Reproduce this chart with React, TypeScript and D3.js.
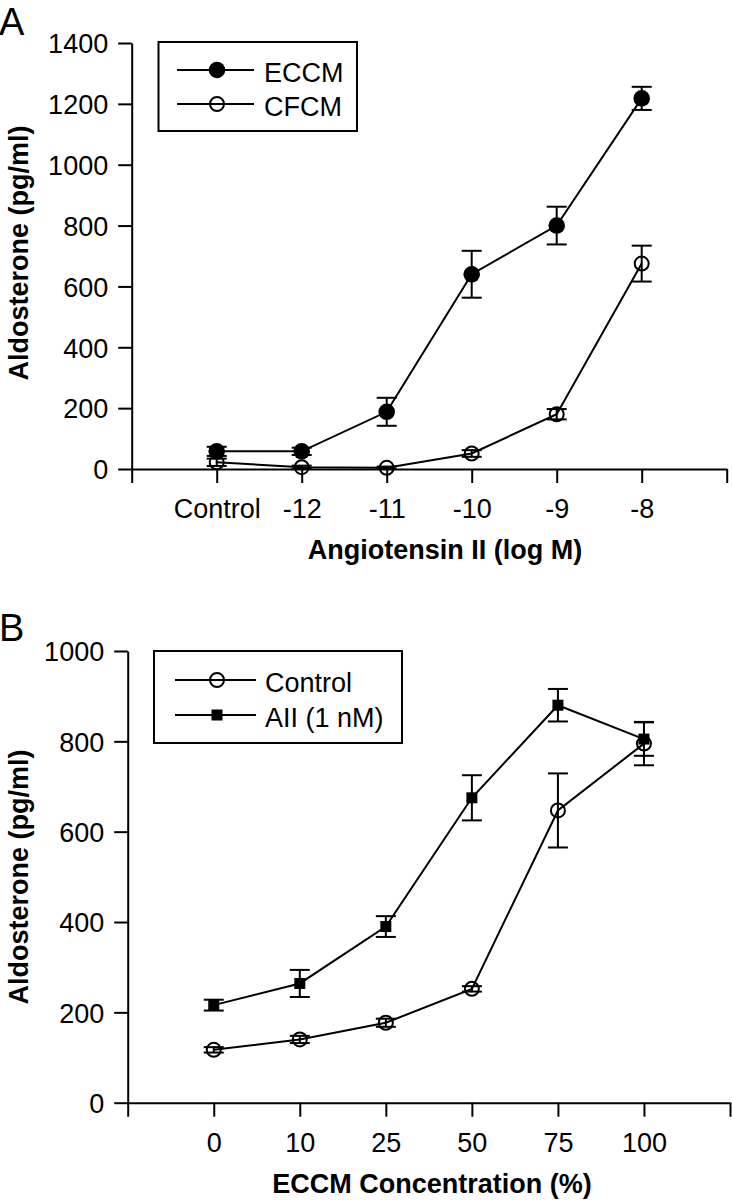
import React, { useEffect, useRef } from "react";
import * as d3 from "d3";

// Panel A
const catsA = ["Control", "-12", "-11", "-10", "-9", "-8"];
const eccmMean = [58, 58, 188, 640, 800, 1218];
const eccmErr = [15, 12, 46, 77, 62, 38];
const cfcmMean = [22, 6, 4, 51, 180, 675];
const cfcmErr = [12, 5, 4, 11, 17, 59];
const ticksA = [0, 200, 400, 600, 800, 1000, 1200, 1400];

// Panel B
const catsB = ["0", "10", "25", "50", "75", "100"];
const controlMean = [117, 140, 177, 252, 647, 795];
const controlErr = [6, 8, 9, 6, 82, 48];
const aiiMean = [216, 264, 390, 675, 880, 805];
const aiiErr = [12, 30, 23, 50, 36, 37];
const ticksB = [0, 200, 400, 600, 800, 1000];

const FONT = "'Liberation Sans', Arial, Helvetica, sans-serif";

type Series = { mean: number[]; err: number[]; marker: "filled" | "open" | "square"; label: string };

type PanelCfg = {
  letter: string;
  letterY: number;
  cats: string[];
  ticks: number[];
  yMax: number;
  xRange: [number, number];
  yRange: [number, number];
  xTitle: string;
  xTitleX: number;
  xTitleY: number;
  yTitleY: number;
  series: Series[];
  legend: { x0: number; y0: number; x1: number; y1: number; lineX0: number; lineX1: number; markX: number; textX: number; rows: number[] };
};

function drawMarker(g: any, type: string, x: number, y: number) {
  if (type === "filled") {
    g.append("circle").attr("cx", x).attr("cy", y).attr("r", 8.3).attr("fill", "#000");
  } else if (type === "open") {
    g.append("circle").attr("cx", x).attr("cy", y).attr("r", 7).attr("fill", "none").attr("stroke", "#000").attr("stroke-width", 2);
  } else {
    g.append("rect").attr("x", x - 5.5).attr("y", y - 5.5).attr("width", 11).attr("height", 11).attr("fill", "#000");
  }
}

function drawPanel(svg: any, cfg: PanelCfg) {
  const x = d3.scaleLinear().domain([-1, cfg.cats.length]).range(cfg.xRange);
  const y = d3.scaleLinear().domain([0, cfg.yMax]).range(cfg.yRange);
  const g = svg.append("g");

  // panel letter
  g.append("text").attr("x", -1).attr("y", cfg.letterY).attr("font-family", FONT).attr("font-size", 38).text(cfg.letter);

  // y axis
  const yAxis = d3.axisLeft(y).tickValues(cfg.ticks).tickSize(13.5).tickPadding(10).tickSizeOuter(0).tickFormat((d: any) => String(d));
  const gy = g.append("g").attr("transform", `translate(${cfg.xRange[0]},0)`).call(yAxis);
  gy.attr("font-family", FONT).attr("font-size", 27);
  gy.selectAll("path, line").attr("stroke", "#000").attr("stroke-width", 2);
  gy.selectAll("text").attr("fill", "#000").attr("dy", "0.36em");

  // x axis
  const idx = d3.range(-1, cfg.cats.length + 1);
  const xAxis = d3.axisBottom(x).tickValues(idx).tickSize(14).tickSizeOuter(0).tickFormat((d: any) => (cfg.cats[d] !== undefined ? cfg.cats[d] : ""));
  const gx = g.append("g").attr("transform", `translate(0,${cfg.yRange[0]})`).call(xAxis);
  gx.attr("font-family", FONT).attr("font-size", 27);
  gx.selectAll("path, line").attr("stroke", "#000").attr("stroke-width", 2);
  gx.selectAll("text").attr("fill", "#000").attr("dy", null).attr("y", 49);

  // titles
  g.append("text").attr("x", cfg.xTitleX).attr("y", cfg.xTitleY).attr("text-anchor", "middle").attr("font-family", FONT).attr("font-weight", "bold").attr("font-size", 27).text(cfg.xTitle);
  g.append("text").attr("transform", `translate(28,${cfg.yTitleY}) rotate(-90)`).attr("text-anchor", "middle").attr("font-family", FONT).attr("font-weight", "bold").attr("font-size", 27).text("Aldosterone (pg/ml)");

  // series
  cfg.series.forEach((s) => {
    const sg = g.append("g");
    s.mean.forEach((m, i) => {
      const cx = x(i);
      const lo = y(m - s.err[i]);
      const hi = y(m + s.err[i]);
      sg.append("line").attr("x1", cx).attr("x2", cx).attr("y1", lo).attr("y2", hi).attr("stroke", "#000").attr("stroke-width", 2);
      sg.append("line").attr("x1", cx - 10).attr("x2", cx + 10).attr("y1", lo).attr("y2", lo).attr("stroke", "#000").attr("stroke-width", 2);
      sg.append("line").attr("x1", cx - 10).attr("x2", cx + 10).attr("y1", hi).attr("y2", hi).attr("stroke", "#000").attr("stroke-width", 2);
    });
    const line = d3.line<number>().x((_, i) => x(i)).y((d) => y(d));
    sg.append("path").attr("d", line(s.mean)).attr("fill", "none").attr("stroke", "#000").attr("stroke-width", 2);
    s.mean.forEach((m, i) => drawMarker(sg, s.marker, x(i), y(m)));
  });

  // legend
  const L = cfg.legend;
  g.append("rect").attr("x", L.x0).attr("y", L.y0).attr("width", L.x1 - L.x0).attr("height", L.y1 - L.y0).attr("fill", "#fff").attr("stroke", "#000").attr("stroke-width", 2);
  cfg.series.forEach((s, k) => {
    const ly = L.rows[k];
    g.append("line").attr("x1", L.lineX0).attr("x2", L.lineX1).attr("y1", ly).attr("y2", ly).attr("stroke", "#000").attr("stroke-width", 2);
    drawMarker(g, s.marker, L.markX, ly);
    g.append("text").attr("x", L.textX).attr("y", ly + 12).attr("font-family", FONT).attr("font-size", 27).text(s.label);
  });
}

export default function App() {
  const ref = useRef<SVGSVGElement>(null);
  useEffect(() => {
    const svg = d3.select(ref.current);
    svg.selectAll("*").remove();
    svg.append("rect").attr("width", 732).attr("height", 1200).attr("fill", "#fff");
    drawPanel(svg, {
      letter: "A",
      letterY: 35,
      cats: catsA,
      ticks: ticksA,
      yMax: 1400,
      xRange: [131.7, 726.7],
      yRange: [469, 43],
      xTitle: "Angiotensin II (log M)",
      xTitleX: 445,
      xTitleY: 559,
      yTitleY: 253,
      series: [
        { mean: eccmMean, err: eccmErr, marker: "filled", label: "ECCM" },
        { mean: cfcmMean, err: cfcmErr, marker: "open", label: "CFCM" },
      ],
      legend: { x0: 158.5, y0: 42, x1: 357, y1: 131, lineX0: 177, lineX1: 254, markX: 217, textX: 264, rows: [70, 104] },
    });
    drawPanel(svg, {
      letter: "B",
      letterY: 641,
      cats: catsB,
      ticks: ticksB,
      yMax: 1000,
      xRange: [127.7, 730],
      yRange: [1102.7, 651],
      xTitle: "ECCM Concentration (%)",
      xTitleX: 432,
      xTitleY: 1193,
      yTitleY: 877,
      series: [
        { mean: controlMean, err: controlErr, marker: "open", label: "Control" },
        { mean: aiiMean, err: aiiErr, marker: "square", label: "AII (1 nM)" },
      ],
      legend: { x0: 154, y0: 651, x1: 402, y1: 743, lineX0: 175, lineX1: 256, markX: 217, textX: 265, rows: [680, 715] },
    });
  }, []);
  return (
    <svg ref={ref} width={732} height={1200} style={{ position: "absolute", left: 0, top: 0, display: "block" }} />
  );
}
